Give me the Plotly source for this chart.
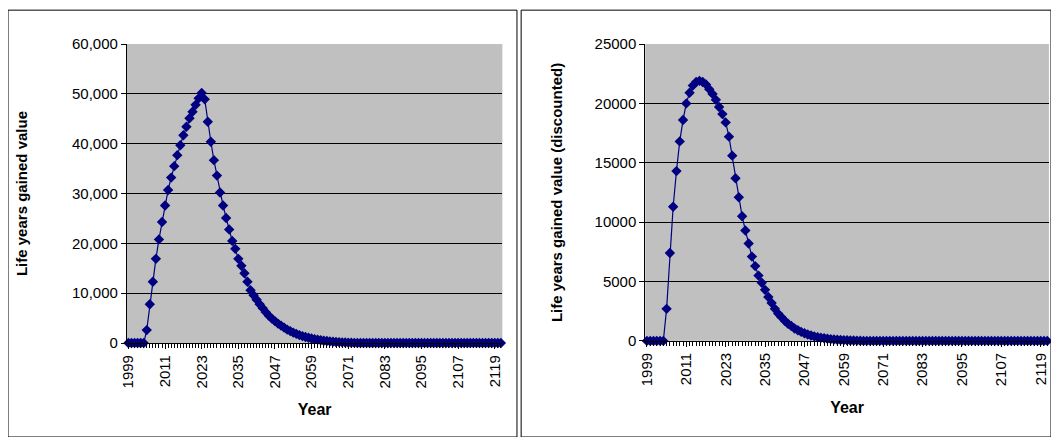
import plotly.graph_objects as go

years = list(range(1999, 2122))

left_nonzero = [2600, 7800, 12300, 16900, 20800, 24300, 27600, 30700, 33200, 35500,
                37700, 39700, 41700, 43400, 45100, 46400, 47800, 49100, 50200,
                48900, 44400, 40400, 36700, 33600, 30200, 27600, 25100, 22800, 20500,
                18900, 16900, 15500, 14000, 12300, 10600, 9600, 8700, 7800, 7000,
                6200, 5500, 4900, 4400, 3900, 3500, 3100, 2700, 2400, 2100, 1850,
                1600, 1400, 1200, 1050, 900, 780, 660, 560, 470, 400, 330, 270, 220,
                180, 140, 110, 80, 60, 40, 25, 10]
right_nonzero = [2700, 7400, 11300, 14300, 16800, 18600, 20000, 20900, 21500, 21800,
                 21900, 21800, 21600, 21200, 20800, 20300, 19700, 19100, 18400,
                 17200, 15600, 13700, 12100, 10500, 9300, 8200, 7100, 6300, 5500,
                 4900, 4300, 3700, 3200, 2700, 2300, 2000, 1700, 1450, 1250, 1050,
                 900, 760, 640, 540, 450, 380, 320, 270, 220, 180, 150, 120, 100, 80,
                 65, 50, 40, 30, 20, 10]

left_values = [0] * 6 + left_nonzero
left_values += [0] * (len(years) - len(left_values))
right_values = [0] * 6 + right_nonzero
right_values += [0] * (len(years) - len(right_values))

tick_years = list(range(1999, 2120, 12))

NAVY = "#000080"
FONT = "Liberation Sans, Arial, sans-serif"

fig = go.Figure()
for vals, xa, ya in [(left_values, "x", "y"), (right_values, "x2", "y2")]:
    fig.add_trace(go.Scatter(x=years, y=vals, xaxis=xa, yaxis=ya, mode="lines+markers",
                             line=dict(color=NAVY, width=1.2),
                             marker=dict(symbol="diamond", size=8, color=NAVY),
                             showlegend=False, cliponaxis=False))

xcommon = dict(range=[1998.5, 2121.5], tickvals=tick_years, tickangle=-90, automargin=False,
               ticks="outside", ticklen=5, tickcolor="black", showgrid=False,
               showline=True, linecolor="black", linewidth=1, zeroline=False,
               tickfont=dict(size=15, color="black", family=FONT),
               minor=dict(dtick=1, tick0=1999, ticks="outside", ticklen=4, tickcolor="black"),
               title=dict(text="<b>Year</b>", font=dict(size=16, color="black", family=FONT), standoff=16))
ycommon = dict(showgrid=True, gridcolor="black", gridwidth=1, showline=True, linecolor="black",
               ticks="outside", ticklen=5, tickcolor="black", zeroline=False, automargin=False,
               tickfont=dict(size=15, color="black", family=FONT))

fig.update_layout(
    width=1043, height=429, margin=dict(l=0, r=0, t=0, b=0),
    paper_bgcolor="white", plot_bgcolor="#C0C0C0",
    xaxis=dict(domain=[0.114, 0.474], anchor="y", **xcommon),
    yaxis=dict(domain=[0.219, 0.916], anchor="x", range=[0, 60000], dtick=10000,
               tickformat=",d",
               title=dict(text="<b>Life years gained value</b>",
                          font=dict(size=15, color="black", family=FONT), standoff=40),
               **ycommon),
    xaxis2=dict(domain=[0.611, 0.998], anchor="y2", **xcommon),
    yaxis2=dict(domain=[0.224, 0.916], anchor="x2", range=[0, 25000], dtick=5000,
                tickformat="d",
                title=dict(text="<b>Life years gained value (discounted)</b>",
                           font=dict(size=15, color="black", family=FONT), standoff=28),
                **ycommon),
    shapes=[
        dict(type="rect", xref="paper", yref="paper", x0=0.0, x1=0.488, y0=0.0, y1=0.995,
             line=dict(color="black", width=1)),
        dict(type="rect", xref="paper", yref="paper", x0=0.492, x1=1.0, y0=0.0, y1=0.995,
             line=dict(color="black", width=1)),
    ],
)

fig.write_html("out.html")
